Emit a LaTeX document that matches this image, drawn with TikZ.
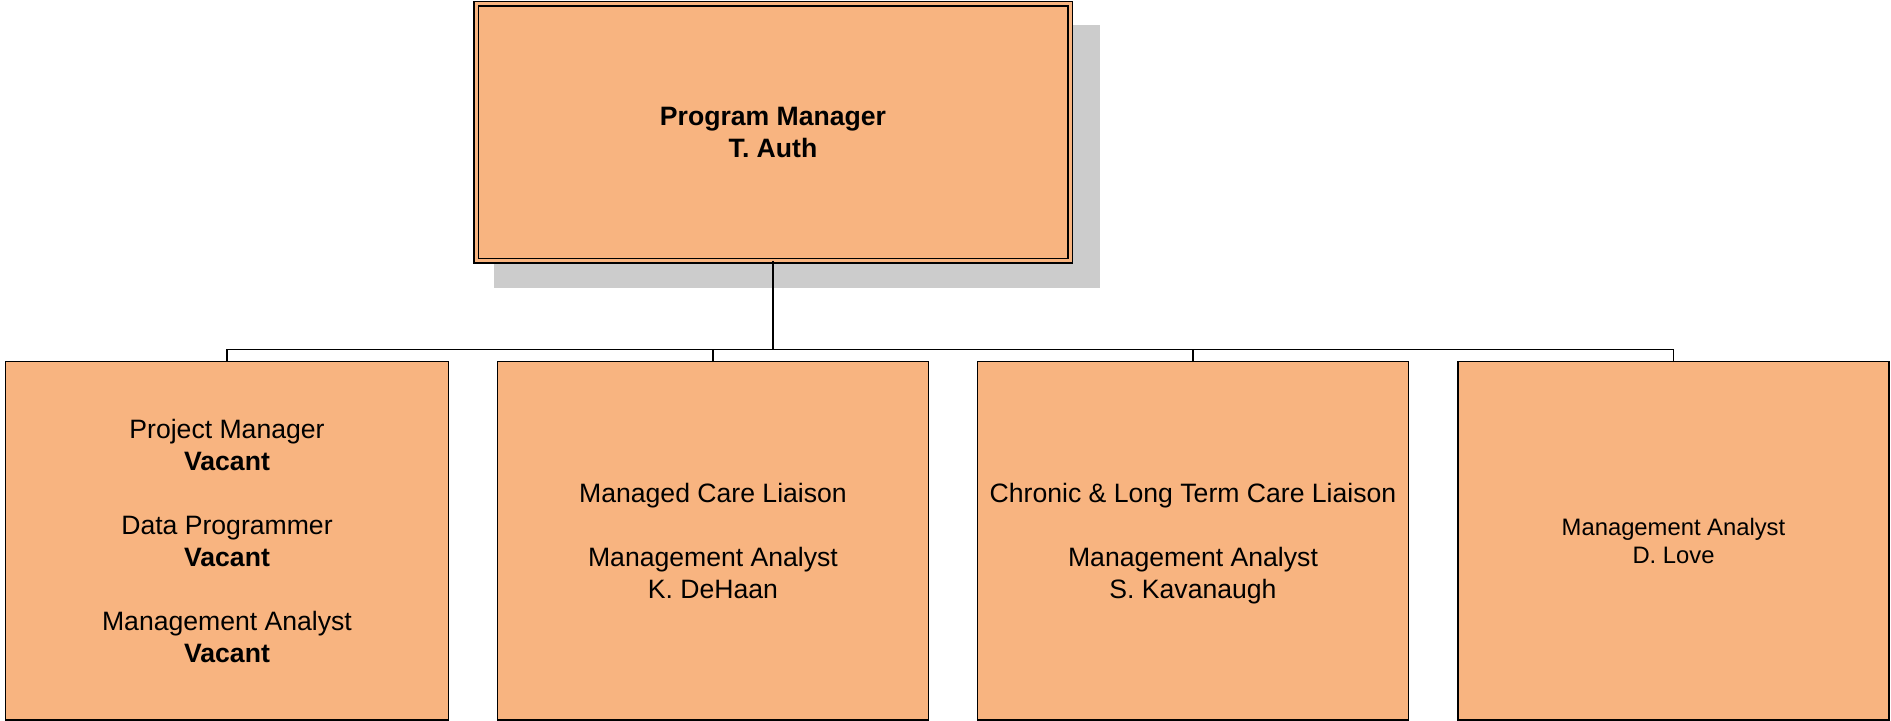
\documentclass[tikz,border=0pt]{standalone}
\usepackage{fontspec}
\setmainfont{Liberation Sans}
\usetikzlibrary{shadows}
\definecolor{boxorange}{RGB}{248,180,128}
\definecolor{shadowgray}{RGB}{204,204,204}
\tikzset{
  orgbox/.style={draw=black, fill=boxorange, line width=0.75pt, inner sep=0pt, outer sep=0pt, text depth=0pt, align=center, font=\fontsize{13.3}{16}\selectfont},
  staffbox/.style={orgbox, minimum width=215.5pt, minimum height=179.25pt},
  link/.style={draw=black, line width=0.6pt},
  stem/.style={draw=black, line width=1pt}
}
\begin{document}
\begin{tikzpicture}[x=0.5pt, y=-0.5pt]
\useasboundingbox (0,0) rectangle (1891,721);

\node[orgbox, double=boxorange, double distance=1.5pt, minimum width=297pt, minimum height=128.5pt, general shadow={fill=shadowgray, shadow xshift=11.75pt, shadow yshift=-11.75pt, shadow scale=1.02}, font=\bfseries\fontsize{13.3}{16}\selectfont] (top) at (773,132.5) {Program Manager\\T. Auth};

\node[orgbox, minimum width=221.5pt, minimum height=179.25pt] (pm) at (227,540.75) {Project Manager\\\textbf{Vacant}\\[16pt]Data Programmer\\\textbf{Vacant}\\[16pt]Management Analyst\\\textbf{Vacant}};
\node[staffbox] (mc) at (713,540.75) {Managed Care Liaison\\[16pt]Management Analyst\\K. DeHaan};
\node[staffbox] (cl) at (1193,540.75) {Chronic \& Long Term Care Liaison\\[16pt]Management Analyst\\S. Kavanaugh};
\node[staffbox, font=\fontsize{11.9}{14.2}\selectfont] (dl) at (1673.5,540.75) {Management Analyst\\D. Love};

\coordinate (bus) at (773,349.5);
\draw[stem] (top.south) -- (bus);
\draw[link] (pm.north) |- (bus) -| (dl.north);
\draw[link] (mc.north) -- (mc.north |- bus);
\draw[link] (cl.north) -- (cl.north |- bus);

\end{tikzpicture}
\end{document}
